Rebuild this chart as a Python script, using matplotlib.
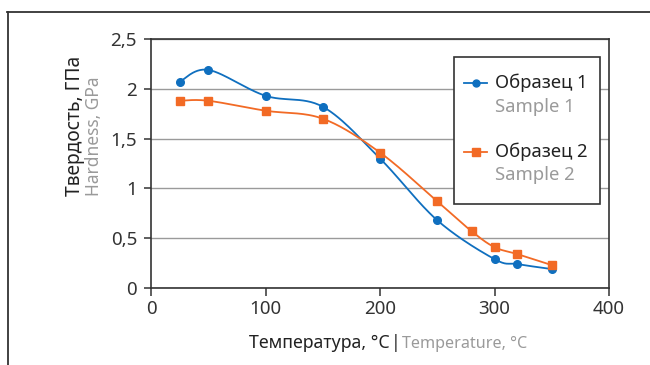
import numpy as np
import matplotlib
matplotlib.use("Agg")
import matplotlib.pyplot as plt
from matplotlib.lines import Line2D
from matplotlib.patches import Rectangle

plt.rcParams['font.family'] = ['Noto Sans', 'DejaVu Sans']

# ---- data ----
temp1 = [25, 50, 100, 150, 200, 250, 300, 320, 350]
hard1 = [2.07, 2.19, 1.93, 1.82, 1.30, 0.68, 0.29, 0.24, 0.19]
temp2 = [25, 50, 100, 150, 200, 250, 280, 300, 320, 350]
hard2 = [1.88, 1.88, 1.78, 1.70, 1.36, 0.87, 0.57, 0.41, 0.34, 0.23]
names_ru = ['Образец 1', 'Образец 2']
names_en = ['Sample 1', 'Sample 2']
xticks = [0, 100, 200, 300, 400]
yticks = [0, 0.5, 1, 1.5, 2, 2.5]
ytick_labels = ['0', '0,5', '1', '1,5', '2', '2,5']

BLUE = '#0F6FBF'
ORANGE = '#F26A25'
GRAY_TXT = '#9A9A9A'
DARK = '#222222'


def smooth(x, y, n=30):
    """Excel-like smoothed line (cubic Bezier, Catmull-Rom tangents)."""
    P = np.column_stack([x, y]).astype(float)
    out = []
    for i in range(len(P) - 1):
        p0 = P[i - 1] if i > 0 else P[i]
        p1, p2 = P[i], P[i + 1]
        p3 = P[i + 2] if i + 2 < len(P) else P[i + 1]
        c1 = p1 + (p2 - p0) / 6.0
        c2 = p2 - (p3 - p1) / 6.0
        t = np.linspace(0, 1, n)[:, None]
        seg = ((1 - t) ** 3) * p1 + 3 * ((1 - t) ** 2) * t * c1 + 3 * (1 - t) * t ** 2 * c2 + t ** 3 * p2
        out.append(seg if i == 0 else seg[1:])
    S = np.vstack(out)
    return S[:, 0], S[:, 1]


fig = plt.figure(figsize=(6.5, 3.65), dpi=100)
ax = fig.add_axes([151 / 650, 1 - 288 / 365, (609 - 151) / 650, (288 - 39) / 365])

# figure frame (top + left)
fig.add_artist(Line2D([7 / 650, 1.0], [1 - 12 / 365] * 2, color='#333333', lw=1.3))
fig.add_artist(Line2D([8 / 650] * 2, [0, 1 - 12 / 365], color='#333333', lw=1.3))

for xs, ys, c, m, ms in [(temp1, hard1, BLUE, 'o', 5.5), (temp2, hard2, ORANGE, 's', 6)]:
    sx, sy = smooth(xs, ys)
    ax.plot(sx, sy, color=c, lw=1.3, zorder=3)
    ax.plot(xs, ys, ls='none', marker=m, ms=ms, color=c, mec=c, zorder=4)

ax.set_xlim(0, 400)
ax.set_ylim(0, 2.5)
ax.set_xticks(xticks)
ax.set_yticks(yticks)
ax.set_yticklabels(ytick_labels)
ax.yaxis.grid(True, color='#9a9a9a', lw=1)
ax.set_axisbelow(True)
for s in ax.spines.values():
    s.set_color('#333333')
    s.set_linewidth(1.2)
ax.tick_params(axis='both', direction='out', width=1.1, color='#333333',
               labelsize=13.5, labelcolor='#333333')
ax.tick_params(axis='x', length=6, pad=3)
ax.tick_params(axis='y', length=5, pad=5)

# y label (two lines, two colours)
fig.text(75 / 650, 1 - 196 / 365, 'Твердость, ГПа', rotation=90, rotation_mode='anchor',
         ha='left', va='center', fontsize=13.8, color=DARK)
fig.text(94 / 650, 1 - 196 / 365, 'Hardness, GPa', rotation=90, rotation_mode='anchor',
         ha='left', va='center', fontsize=12.5, color=GRAY_TXT)

# x label
t1 = fig.text(249 / 650, 1 - 348 / 365, 'Температура, °C', ha='left', va='baseline',
              fontsize=12.8, color=DARK)
t2 = ax.annotate('|', xy=(1, 0), xycoords=t1, xytext=(0.8, 0), textcoords='offset points',
                 ha='left', va='bottom', fontsize=12.8, color=DARK, annotation_clip=False)
ax.annotate('Temperature, °C', xy=(1, 0), xycoords=t2, xytext=(0.8, 0),
            textcoords='offset points', ha='left', va='bottom',
            fontsize=11.6, color=GRAY_TXT, annotation_clip=False)

# custom legend
def fx(px):
    return (px - 151) / (609 - 151)
def fy(py):
    return (288 - py) / (288 - 39)

ax.add_patch(Rectangle((fx(454), fy(204)), fx(600) - fx(454), fy(57) - fy(204),
                       transform=ax.transAxes, facecolor='white', edgecolor='#333333',
                       lw=1.2, zorder=5, clip_on=False))
for (ry, ey), c, m, ms, ru, en in [((83, 107), BLUE, 'o', 5, names_ru[0], names_en[0]),
                                   ((152, 175), ORANGE, 's', 5.5, names_ru[1], names_en[1])]:
    ax.add_line(Line2D([fx(464), fx(487)], [fy(ry)] * 2, transform=ax.transAxes,
                       color=c, lw=1.3, zorder=6, clip_on=False))
    ax.add_line(Line2D([fx(475.5)], [fy(ry)], transform=ax.transAxes, marker=m, ms=ms,
                       color=c, ls='none', zorder=6, clip_on=False))
    ax.text(fx(495), fy(ry), ru, transform=ax.transAxes, ha='left', va='center',
            fontsize=13.3, color=DARK, zorder=6)
    ax.text(fx(495), fy(ey), en, transform=ax.transAxes, ha='left', va='center',
            fontsize=13.3, color=GRAY_TXT, zorder=6)

fig.savefig('out.png', dpi=100)
